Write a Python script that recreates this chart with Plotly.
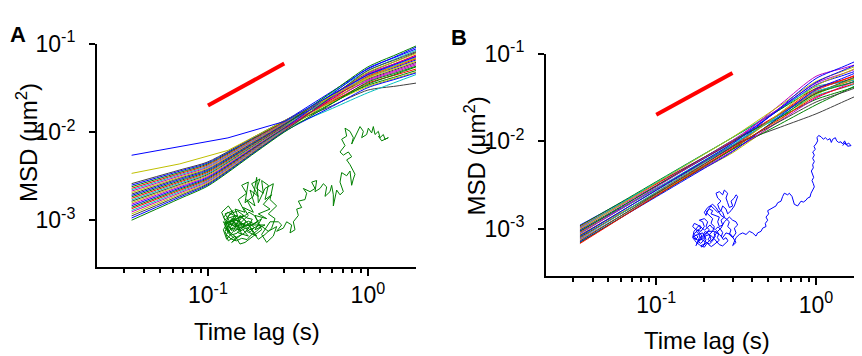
import plotly.graph_objects as go

# ---------------- data ----------------
lags = [0.0333, 0.0667, 0.1, 0.2, 0.3, 0.6, 1.0, 1.5, 2.0]   # time lag (s)

# MSD curves, in units of 1e-3 um^2, panel A (24 bundle curves)
msd_A_milli = [
    [2.60, 3.72, 4.60, 9.08, 13.5, 25.2, 40, 51.6, 62],
    [2.50, 3.61, 4.48, 8.89, 13.3, 29.2, 52, 72.6, 92],
    [2.40, 3.49, 4.36, 8.75, 13.15, 22.7, 34, 42.6, 50],
    [2.30, 3.38, 4.24, 8.59, 12.97, 26.5, 45, 60.7, 75],
    [2.22, 3.28, 4.12, 8.41, 12.8, 28.1, 50, 68.2, 85],
    [2.14, 3.18, 4.01, 8.28, 12.65, 23.8, 38, 48.6, 58],
    [2.06, 3.08, 3.91, 8.13, 12.47, 21.9, 33, 41.1, 48],
    [1.98, 2.99, 3.80, 7.98, 12.3, 26.6, 47, 64.1, 80],
    [1.91, 2.90, 3.70, 7.83, 12.16, 24.8, 42, 54.7, 66],
    [1.84, 2.81, 3.60, 7.69, 12.0, 28.8, 55, 75.7, 95],
    [1.77, 2.72, 3.50, 7.55, 11.83, 22.4, 36, 44.7, 52],
    [1.70, 2.64, 3.40, 7.41, 11.7, 25.1, 44, 57.7, 70],
    [1.64, 2.55, 3.31, 7.28, 11.53, 20.0, 30, 33.3, 36],
    [1.58, 2.48, 3.22, 7.14, 11.4, 26.1, 48, 63.7, 78],
    [1.52, 2.40, 3.13, 7.01, 11.25, 23.0, 39, 50.1, 60],
    [1.46, 2.32, 3.05, 6.89, 11.1, 27.3, 53, 71.3, 88],
    [1.40, 2.25, 2.97, 6.78, 10.96, 21.4, 35, 45.6, 55],
    [1.35, 2.18, 2.89, 6.65, 10.8, 23.9, 43, 56.2, 68],
    [1.29, 2.11, 2.81, 6.52, 10.67, 18.6, 28, 37.0, 45],
    [1.24, 2.04, 2.74, 6.41, 10.54, 24.7, 46, 60.3, 73],
    [1.18, 1.97, 2.66, 6.30, 10.4, 22.9, 41, 53.2, 64],
    [1.12, 1.90, 2.59, 6.17, 10.26, 25.5, 50, 66.8, 82],
    [1.06, 1.83, 2.52, 6.07, 10.14, 19.6, 32, 40.1, 47],
    [1.00, 1.76, 2.45, 5.96, 10.0, 21.2, 37, 47.1, 56],
]
# two outlying curves in panel A (sampled on their own lags)
outlier_lags = [0.0333, 0.0667, 0.1333, 0.3, 0.6, 1.0, 1.5, 2.0]
outlier_blue_milli = [5.46, 6.90, 8.60, 13.2, 26.7, 45, 59.2, 72]
outlier_yellow_milli = [3.40, 4.36, 6.2, 13.3, 25.8, 42, 56.6, 70]

# MSD curves, in units of 1e-3 um^2, panel B
msd_B_milli = [
    [1.100, 2.20, 3.30, 6.59, 9.89, 23.3, 44, 56.8, 68],
    [1.080, 2.24, 3.45, 7.19, 11.0, 23.2, 40, 48.6, 56],
    [1.054, 2.14, 3.24, 6.56, 9.91, 20.8, 36, 46.1, 55],
    [1.033, 2.18, 3.38, 7.14, 11.07, 23.9, 42, 47.5, 52],
    [1.012, 2.07, 3.13, 6.40, 9.72, 26.4, 55, 68.4, 80],
    [0.989, 2.12, 3.31, 7.10, 11.07, 25.8, 48, 63.7, 78],
    [0.968, 2.00, 3.07, 6.35, 9.72, 20.3, 35, 48.0, 60],
    [0.948, 1.91, 2.88, 5.79, 8.73, 24.4, 52, 71.6, 90],
    [0.929, 1.98, 3.08, 6.55, 10.19, 19.0, 30, 38.0, 45],
    [0.910, 1.87, 2.85, 5.86, 8.93, 20.6, 38, 50.6, 62],
    [0.891, 1.87, 2.88, 6.05, 9.35, 19.4, 33, 41.1, 48],
    [0.873, 1.90, 2.99, 6.49, 10.21, 24.3, 46, 59.7, 72],
    [0.855, 1.69, 2.51, 4.94, 7.36, 17.7, 34, 46.5, 58],
    [0.838, 1.77, 2.74, 5.79, 8.97, 14.5, 20.5, 28.5, 36],
    [0.820, 1.77, 2.77, 6.00, 9.40, 23.8, 47, 65.2, 82],
    [0.802, 1.66, 2.54, 5.26, 8.05, 15.8, 26, 37.2, 48],
    [0.785, 1.67, 2.60, 5.53, 8.61, 20.8, 40, 50.7, 60],
    [0.769, 1.67, 2.63, 5.71, 8.99, 20.3, 37, 44.2, 50],
    [0.753, 1.57, 2.42, 5.04, 7.73, 17.2, 31, 42.9, 54],
    [0.738, 1.58, 2.47, 5.30, 8.26, 21.3, 43, 59.6, 75],
    [0.723, 1.58, 2.50, 5.47, 8.65, 17.0, 28, 36.5, 44],
    [0.708, 1.50, 2.32, 4.90, 7.59, 19.5, 39, 53.1, 66],
    [0.693, 1.51, 2.37, 5.15, 8.11, 18.8, 35, 44.2, 52],
    [0.679, 1.50, 2.38, 5.24, 8.32, 18.1, 32, 41.5, 50],
]

# slope-1 guide line
guide_t = [0.1, 0.3]
guide_msd = [0.02, 0.06]

# example trajectories (arbitrary units)
traj_A = [
    (60,320),(48,332),(66,328),(52,318),(70,342),(58,350),(42,336),(50,348),(38,326),(55,308),
    (72,318),(80,332),(66,356),(48,362),(35,340),(28,328),(44,318),(62,312),(78,304),(92,318),
    (84,338),(98,342),(88,356),(72,366),(58,372),(42,358),(30,338),(40,300),(52,292),(68,286),
    (82,296),(96,308),(112,312),(104,326),(118,338),(106,352),(92,340),(78,348),(64,340),(50,326),
    (36,318),(26,306),(38,290),(56,298),(74,308),(88,302),(102,290),(118,300),(128,318),(116,326),
    (100,318),(86,326),(70,324),(56,336),(44,346),(34,360),(48,374),(64,380),(80,372),(96,376),
    (108,362),(124,350),(138,336),(126,322),(110,330),(94,332),(76,338),(60,330),
    (150,330),(120,345),(140,310),(105,335),(125,365),(95,350),(110,320),(80,340),(100,365),(70,355),
    (90,325),(60,335),(85,300),(55,315),(75,345),(45,340),(65,300),(35,310),(55,285),(30,295),
    (50,330),(25,320),(45,355),(20,290),(40,270),(60,300),(35,345),(65,370),(50,385),(80,360),
    (70,330),(100,300),(85,275),(115,290),(95,250),(120,270),(105,220),(130,240),(110,200),(135,185),
    (125,215),(145,230),(140,190),(160,205),(150,250),(170,235),(145,265),(165,280),(130,295),(155,310),
    (120,300),(140,345),(110,370),(90,385),(75,390),(60,365),(40,380),(30,350),(50,310),(75,320),
    (60,280),(90,290),(70,250),(95,230),(80,205),(100,195),(90,260),(115,240),(125,180),(130,260),
    (150,215),(175,200),(165,250),(185,270),(160,295),(180,310),(170,340),(150,360),(130,375),(115,355),
    (95,320),(75,300),(55,350),(35,375),(25,345),(40,320),(70,315),(105,345),(135,330),(160,350),
    (185,335),(175,365),(155,385),(140,360),(165,320),(190,320),(200,330),(185,350),(205,340),(215,320),
    (230,330),(225,355),(240,345),(235,320),(250,300),(245,280),(260,275),(250,255),(270,250),(275,230),
    (265,215),(285,225),(300,215),(290,195),(305,190),(300,225),(315,215),(325,200),(335,210),(330,240),
    (345,225),(350,205),(355,235),(355,270),(365,220),(375,235),(385,225),(375,195),(380,165),(395,175),
    (405,160),(410,205),(415,185),(420,170),(405,140),(395,125),(410,115),(400,100),(385,110),(375,100),
    (390,80),(380,60),(395,50),(390,25),(405,35),(415,55),(410,75),(425,45),(435,20),(445,35),
    (440,55),(455,45),(460,25),(470,40),(475,20),(480,45),(490,35),(495,55),(505,45),(510,60),
    (520,55),(500,65),(490,50),
]
traj_B = [
    (30,330),(36,338),(28,346),(22,338),(26,326),(34,318),(42,326),(48,336),(42,344),(36,352),
    (44,358),(52,350),(58,340),(52,330),(58,320),(66,326),(72,336),(66,346),(74,352),(82,344),
    (88,336),(84,326),(92,318),(98,328),(94,340),(100,348),(92,356),(84,362),(76,368),(68,362),
    (62,354),(54,362),(48,370),(40,362),(32,356),(26,348),(20,340),(24,320),(32,308),(40,300),
    (48,310),(56,316),(64,308),(72,300),(80,310),(88,314),(96,306),(104,314),(110,324),(106,336),
    (112,346),(120,340),(126,350),(118,358),(110,366),(100,362),(90,350),(80,338),(70,330),(60,334),
    (50,344),(40,336),
    (40,330),(30,320),(45,310),(35,300),(25,295),(20,305),(30,315),(45,320),(55,305),(50,290),
    (40,285),(55,280),(65,290),(60,305),(70,315),(60,330),(50,340),(40,350),(30,345),(25,335),
    (35,330),(50,325),(60,345),(55,360),(45,365),(55,370),(65,355),(75,345),(70,330),(80,320),
    (85,305),(75,295),(80,280),(70,270),(60,260),(70,250),(80,255),(75,265),(90,270),(100,275),
    (95,290),(100,305),(110,300),(105,285),(115,275),(110,260),(100,250),(95,235),(105,225),(95,215),
    (90,200),(100,195),(110,205),(115,190),(125,200),(120,215),(125,230),(130,245),(140,240),(135,225),
    (145,215),(150,205),(155,210),(150,225),(145,240),(135,255),(125,265),(120,250),(110,240),(105,255),
    (95,260),(85,250),(75,240),(65,255),(60,270),(55,260),(65,245),(80,235),(90,245),(105,270),
    (120,280),(130,290),(125,305),(135,315),(130,330),(140,340),(150,325),(145,310),(155,300),(150,290),
    (140,285),(130,275),(115,290),(105,310),(95,320),(85,335),(80,350),(70,360),(60,355),(45,345),
    (35,355),(30,365),(40,340),(50,335),(65,320),(85,320),(100,330),(110,340),(120,325),(135,330),
    (145,345),(150,355),(140,365),(150,340),(160,330),
    (170,325),(180,330),(190,320),(200,325),(210,335),(215,325),(225,320),(230,310),(240,305),(238,295),
    (245,285),(240,275),(248,265),(245,255),(255,250),(262,245),(270,240),(275,230),(285,225),(290,210),
    (295,200),(305,205),(310,200),(318,210),(322,222),(325,235),(335,240),(340,232),(345,225),(352,228),
    (360,222),(365,215),(372,212),(375,200),(380,190),(385,180),(382,170),(378,160),(383,150),(380,140),
    (376,130),(382,120),(380,110),(385,100),(380,90),(385,80),(380,70),(388,62),(384,52),(390,45),
    (395,35),(393,25),(398,18),(405,22),(412,30),(418,25),(425,32),(432,28),(436,40),(440,30),
    (448,25),(452,35),(458,40),(465,38),(470,45),(476,35),(480,48),(488,42),(495,50),(485,52),
    (478,40),(470,50),
]

# ---------------- style ----------------
palette = ["#0000FF", "#008000", "#FF0000", "#00BFBF", "#BF00BF", "#BFBF00", "#404040"]
color_idx_A = [6,0,1,2,3,4,5,6,0,1,2,3,6,5,4,0,1,2,3,4,5,6,0,1]
W, H = 862, 356
OFF = 8          # page body margin of the rendered html
FONT = "Arial, Liberation Sans, Helvetica, sans-serif"

def fx(p):
    return (p - OFF) / W

def fy(p):
    return 1 - (p - OFF) / H

fig = go.Figure()

for k, row in enumerate(msd_A_milli):
    fig.add_trace(go.Scatter(x=lags, y=[v * 1e-3 for v in row], mode="lines",
                             line=dict(color=palette[color_idx_A[k]], width=1, shape="spline", smoothing=0.7),
                             xaxis="x", yaxis="y", showlegend=False, hoverinfo="skip"))
for row, col in ((outlier_yellow_milli, palette[5]), (outlier_blue_milli, palette[0])):
    fig.add_trace(go.Scatter(x=outlier_lags, y=[v * 1e-3 for v in row], mode="lines",
                             line=dict(color=col, width=1),
                             xaxis="x", yaxis="y", showlegend=False, hoverinfo="skip"))
for k, row in enumerate(msd_B_milli):
    fig.add_trace(go.Scatter(x=lags, y=[v * 1e-3 for v in row], mode="lines",
                             line=dict(color=palette[k % 7], width=1, shape="spline", smoothing=0.7),
                             xaxis="x2", yaxis="y2", showlegend=False, hoverinfo="skip"))

for xa, ya in (("x", "y"), ("x2", "y2")):
    fig.add_trace(go.Scatter(x=guide_t, y=guide_msd, mode="lines",
                             line=dict(color="#FF0000", width=4),
                             xaxis=xa, yaxis=ya, showlegend=False, hoverinfo="skip"))

fig.add_trace(go.Scatter(x=[p[0] for p in traj_A], y=[p[1] for p in traj_A], mode="lines",
                         line=dict(color="#008000", width=1), xaxis="x3", yaxis="y3",
                         showlegend=False, hoverinfo="skip"))
fig.add_trace(go.Scatter(x=[p[0] for p in traj_B], y=[p[1] for p in traj_B], mode="lines",
                         line=dict(color="#0000FF", width=1), xaxis="x4", yaxis="y4",
                         showlegend=False, hoverinfo="skip"))

xt_vals = [0.1, 1.0]
xt_text = ["10<sup>-1</sup>", "10<sup>0</sup>"]
yt_vals = [1e-3, 1e-2, 1e-1]
yt_text = ["10<sup>-3</sup>", "10<sup>-2</sup>", "10<sup>-1</sup>"]
minor_x = [0.03, 0.04, 0.05, 0.06, 0.07, 0.08, 0.09, 0.2, 0.3, 0.4, 0.5, 0.6, 0.7, 0.8, 0.9]

def xaxis(domain, rng, anchor):
    return dict(type="log", domain=domain, range=rng, anchor=anchor,
                showline=True, linecolor="black", linewidth=2, showgrid=False, zeroline=False,
                ticks="outside", ticklen=7, tickwidth=2, tickcolor="black",
                tickmode="array", tickvals=xt_vals, ticktext=xt_text,
                tickfont=dict(family=FONT, size=23, color="black"),
                minor=dict(tickmode="array", tickvals=minor_x, ticks="outside", ticklen=4,
                           tickwidth=1.5, tickcolor="black", showgrid=False))

def yaxis(domain, rng, anchor):
    return dict(type="log", domain=domain, range=rng, anchor=anchor,
                showline=True, linecolor="black", linewidth=2, showgrid=False, zeroline=False,
                ticks="outside", ticklen=6, tickwidth=2, tickcolor="black",
                tickmode="array", tickvals=yt_vals, ticktext=yt_text,
                ticklabelstandoff=9,
                tickfont=dict(family=FONT, size=23, color="black"))

hidden = dict(visible=False, showgrid=False, zeroline=False, fixedrange=True)

fig.update_layout(
    width=W, height=H,
    margin=dict(l=0, r=0, t=0, b=0),
    paper_bgcolor="white", plot_bgcolor="rgba(0,0,0,0)",
    xaxis=xaxis([fx(97), fx(416)], [-1.694, 0.301], "y"),
    yaxis=yaxis([fy(262), fy(28)], [-3.53, -1.0], "x"),
    xaxis2=xaxis([fx(546), fx(862)], [-1.69, 0.2875], "y2"),
    yaxis2=yaxis([fy(271.7), fy(38)], [-3.54, -1.0], "x2"),
    xaxis3=dict(hidden, domain=[fx(215), fx(395)], range=[0, 540], anchor="y3"),
    yaxis3=dict(hidden, domain=[fy(243), fy(108)], range=[405, 0], anchor="x3"),
    xaxis4=dict(hidden, domain=[fx(686), fx(858)], range=[0, 516], anchor="y4"),
    yaxis4=dict(hidden, domain=[fy(248), fy(118)], range=[390, 0], anchor="x4"),
    font=dict(family=FONT, color="black"),
)

def ann(text, x, y, size=24, angle=0, bold=False, xanchor="center"):
    fig.add_annotation(text=("<b>%s</b>" % text) if bold else text,
                       x=fx(x), y=fy(y), xref="paper", yref="paper",
                       xanchor=xanchor, yanchor="middle", showarrow=False,
                       textangle=angle, font=dict(family=FONT, size=size, color="black"))

ann("Time lag (s)", 257, 330)
ann("Time lag (s)", 707, 339)
ann("MSD (\u03bcm<sup>2</sup>)", 27, 132, angle=-90)
ann("MSD (\u03bcm<sup>2</sup>)", 475, 146, angle=-90)
ann("A", 8, 18, size=22, bold=True, xanchor="left")
ann("B", 449, 21, size=22, bold=True, xanchor="left")

fig.write_html("out.html")
